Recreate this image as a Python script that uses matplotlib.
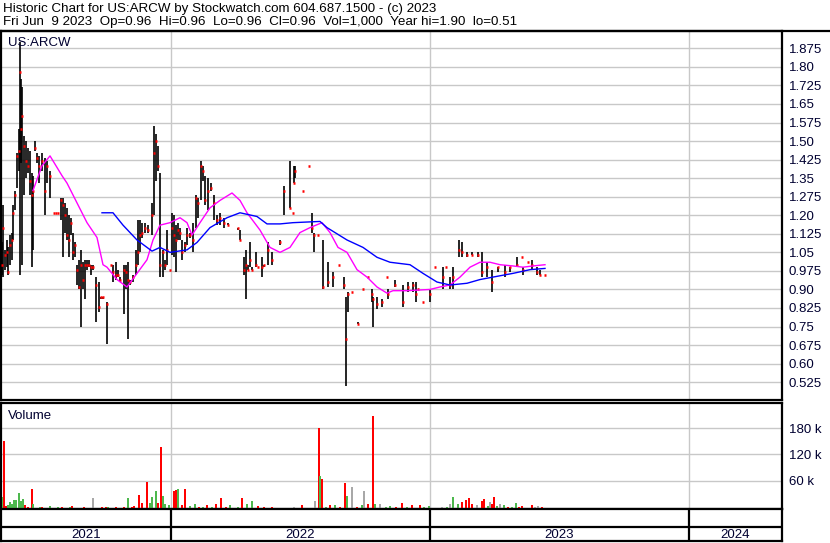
import matplotlib
matplotlib.use("Agg")
import matplotlib.pyplot as plt
from matplotlib.lines import Line2D
import numpy as np

plt.rcParams['font.family'] = ['Liberation Sans', 'DejaVu Sans']

# ---------------- data ----------------
# trading-session index (0 = first session shown)
days = [0, 1, 3, 5, 6, 8, 10, 11, 13, 15, 17, 18, 19, 20, 22, 24, 26, 28, 30, 31,
        33, 35, 37, 40, 43, 45, 48, 52, 54, 56, 59, 61, 63, 65, 67, 69, 71, 73, 75, 77,
        79, 81, 83, 85, 87, 89, 91, 94, 97, 99, 101, 105, 109, 111, 114, 116, 118, 122, 124, 126,
        128, 131, 134, 136, 138, 140, 143, 146, 150, 152, 154, 156, 158, 161, 163, 165, 168, 170, 172, 174,
        176, 178, 180, 183, 185, 188, 191, 194, 196, 199, 201, 203, 206, 209, 212, 215, 218, 222, 226, 236,
        238, 242, 244, 246, 248, 250, 254, 256, 260, 262, 266, 270, 278, 282, 288, 291, 292, 293, 301, 307,
        310, 312, 316, 321, 326, 331, 337, 342, 344, 346, 350, 356, 361, 366, 370, 371, 375, 380, 385, 386,
        393, 401, 406, 411, 414, 416, 421, 428, 433, 441, 444, 448, 451, 457, 460, 465, 470, 476, 480, 485,
        490, 496, 503, 508, 515, 520, 521, 526, 530, 535, 538, 543]
highs = [1.09, 1.24, 1.06, 1.10, 1.07, 1.12, 1.13, 1.24, 1.30, 1.45, 1.55, 1.90, 1.75, 1.72, 1.52, 1.50, 1.47, 1.46, 1.37, 1.36,
         1.50, 1.45, 1.44, 1.45, 1.43, 1.42, 1.38, 1.21, 1.21, 1.21, 1.27, 1.27, 1.25, 1.23, 1.20, 1.19, 1.13, 1.09, 1.00, 1.02,
         1.06, 1.01, 1.02, 1.02, 1.02, 1.00, 1.00, 0.95, 0.93, 0.87, 0.87, 0.85, 1.00, 1.00, 1.01, 0.98, 0.95, 1.00, 1.00, 1.01,
         0.94, 0.96, 1.06, 1.18, 1.18, 1.17, 1.17, 1.16, 1.25, 1.56, 1.53, 1.48, 1.37, 1.06, 1.02, 1.14, 0.98, 1.21, 1.20, 1.16,
         1.17, 1.15, 1.10, 1.09, 1.15, 1.13, 1.17, 1.28, 1.27, 1.42, 1.40, 1.36, 1.35, 1.33, 1.28, 1.20, 1.21, 1.19, 1.17, 1.15,
         1.14, 1.03, 1.06, 1.00, 1.09, 0.99, 1.05, 0.99, 1.03, 1.00, 1.09, 1.05, 1.10, 1.32, 1.42, 1.21, 1.40, 1.40, 1.30, 1.40,
         1.21, 1.13, 1.12, 1.10, 1.01, 0.97, 1.00, 0.95, 0.87, 0.89, 0.89, 0.77, 0.90, 0.95, 0.90, 0.87, 0.87, 0.86, 0.95, 0.90,
         0.94, 0.92, 0.93, 0.93, 0.93, 0.90, 0.85, 0.90, 0.99, 0.99, 0.99, 0.95, 0.99, 1.10, 1.09, 1.05, 1.05, 1.05, 1.05, 1.01,
         0.98, 0.99, 1.00, 0.99, 1.03, 1.03, 0.99, 1.01, 1.02, 0.99, 0.98, 0.96]
lows = [0.96, 0.95, 0.98, 0.99, 0.96, 1.00, 1.02, 1.10, 1.22, 1.31, 1.38, 0.96, 1.41, 1.00, 1.28, 1.35, 1.37, 1.28, 0.99, 1.06,
        1.46, 1.41, 1.33, 1.38, 1.20, 1.33, 1.27, 1.21, 1.21, 1.21, 1.18, 1.03, 1.13, 1.10, 1.03, 1.12, 1.02, 1.03, 0.92, 0.90,
        0.75, 0.90, 0.86, 0.98, 0.99, 0.96, 0.98, 0.77, 0.81, 0.86, 0.86, 0.68, 1.00, 0.93, 0.94, 0.95, 0.93, 0.80, 0.90, 0.70,
        0.92, 0.93, 0.96, 1.00, 1.05, 1.11, 1.13, 1.13, 1.12, 1.20, 1.34, 1.38, 0.95, 0.95, 0.98, 1.00, 0.98, 1.04, 1.03, 0.97,
        1.10, 1.10, 1.02, 1.05, 1.08, 1.11, 1.05, 1.15, 1.19, 1.26, 1.34, 1.24, 1.22, 1.30, 1.18, 1.16, 1.16, 1.15, 1.16, 1.14,
        1.10, 0.96, 0.86, 0.98, 0.99, 0.98, 0.99, 0.99, 0.95, 0.99, 1.00, 1.00, 1.08, 1.20, 1.23, 1.21, 1.33, 1.35, 1.30, 1.40,
        1.13, 1.05, 1.12, 0.90, 0.91, 0.91, 1.00, 0.90, 0.51, 0.81, 0.89, 0.76, 0.90, 0.95, 0.85, 0.75, 0.82, 0.83, 0.95, 0.86,
        0.91, 0.83, 0.89, 0.89, 0.85, 0.90, 0.85, 0.85, 0.99, 0.90, 0.99, 0.90, 0.90, 1.03, 1.03, 1.03, 1.04, 1.03, 0.95, 0.95,
        0.89, 0.97, 0.95, 0.97, 0.99, 1.03, 0.96, 1.01, 0.98, 0.96, 0.96, 0.96]
closes = [1.00, 1.15, 1.04, 1.05, 0.97, 1.08, 1.10, 1.21, 1.28, 1.44, 1.46, 1.78, 1.55, 1.60, 1.48, 1.42, 1.40, 1.34, 1.28, 1.30,
          1.47, 1.43, 1.40, 1.42, 1.30, 1.40, 1.36, 1.21, 1.21, 1.21, 1.26, 1.24, 1.20, 1.12, 1.10, 1.17, 1.05, 1.08, 0.98, 0.91,
          1.00, 0.94, 1.00, 1.00, 1.00, 0.99, 0.99, 0.92, 0.83, 0.87, 0.87, 0.84, 1.00, 0.97, 0.96, 0.96, 0.94, 0.98, 0.97, 0.94,
          0.93, 0.95, 1.00, 1.05, 1.12, 1.13, 1.15, 1.14, 1.20, 1.45, 1.50, 1.40, 1.00, 1.05, 1.00, 1.06, 0.98, 1.15, 1.12, 1.10,
          1.14, 1.13, 1.05, 1.08, 1.12, 1.12, 1.10, 1.27, 1.25, 1.40, 1.38, 1.26, 1.30, 1.31, 1.25, 1.18, 1.19, 1.17, 1.16, 1.15,
          1.10, 0.98, 1.00, 0.98, 1.02, 0.98, 1.00, 0.99, 0.99, 1.00, 1.06, 1.02, 1.09, 1.30, 1.23, 1.21, 1.33, 1.38, 1.30, 1.40,
          1.15, 1.12, 1.12, 0.91, 0.93, 0.95, 1.00, 0.92, 0.70, 0.88, 0.89, 0.76, 0.90, 0.95, 0.88, 0.86, 0.84, 0.85, 0.95, 0.88,
          0.92, 0.85, 0.91, 0.92, 0.88, 0.90, 0.85, 0.88, 0.99, 0.95, 0.99, 0.92, 0.95, 1.06, 1.05, 1.04, 1.04, 1.04, 0.97, 0.99,
          0.93, 0.99, 0.97, 0.99, 1.00, 1.03, 0.98, 1.01, 1.00, 0.97, 0.96, 0.96]

# moving averages (magenta = short, blue = long)
ma_short_days = [31, 40, 48, 60, 65, 75, 85, 95, 101, 105, 115, 125, 135, 145, 151, 158, 168, 178, 185, 190,
                 198, 208, 218, 230, 238, 245, 258, 268, 278, 288, 298, 308, 320, 328, 336, 345, 355, 365, 375, 385,
                 391, 405, 428, 438, 448, 458, 468, 478, 488, 498, 511, 521, 531, 543]
ma_short = [1.30, 1.40, 1.44, 1.36, 1.33, 1.25, 1.17, 1.11, 1.00, 0.99, 0.94, 0.91, 0.965, 1.02, 1.10, 1.16, 1.17, 1.19, 1.17, 1.12,
            1.17, 1.23, 1.26, 1.29, 1.26, 1.21, 1.14, 1.07, 1.05, 1.07, 1.13, 1.15, 1.17, 1.13, 1.07, 1.05, 0.98, 0.95, 0.91, 0.885,
            0.895, 0.895, 0.90, 0.91, 0.918, 0.95, 0.99, 1.01, 1.01, 1.00, 0.995, 0.99, 0.995, 1.00]
ma_long_days = [100, 111, 121, 135, 150, 158, 168, 185, 195, 208, 225, 238, 255, 265, 278, 291, 318, 325, 345, 361,
                375, 388, 408, 421, 435, 448, 465, 478, 491, 511, 528, 543]
ma_long = [1.21, 1.21, 1.16, 1.10, 1.055, 1.07, 1.05, 1.06, 1.09, 1.15, 1.19, 1.21, 1.195, 1.165, 1.165, 1.17, 1.175, 1.15, 1.10, 1.07,
           1.03, 1.01, 1.00, 0.965, 0.93, 0.918, 0.925, 0.94, 0.95, 0.965, 0.98, 0.985]

# volume (thousands of shares); colour: r = down, g = up, n = unchanged
vol_days = [1, 2, 4, 6, 8, 10, 12, 14, 17, 19, 21, 23, 26, 30, 31, 34, 38, 40, 44, 48,
            52, 56, 60, 64, 68, 70, 74, 78, 82, 86, 91, 95, 100, 104, 106, 110, 114, 118, 122, 126,
            130, 132, 137, 140, 145, 148, 150, 154, 156, 159, 161, 163, 167, 172, 174, 176, 180, 183, 188, 193,
            197, 201, 205, 210, 214, 219, 224, 228, 233, 236, 240, 245, 250, 256, 262, 270, 278, 285, 292, 300,
            306, 313, 317, 318, 320, 324, 328, 333, 338, 343, 345, 350, 355, 360, 362, 366, 371, 373, 378, 384,
            388, 394, 400, 405, 410, 418, 422, 427, 433, 440, 445, 448, 451, 456, 460, 464, 467, 470, 475, 480,
            482, 486, 488, 490, 492, 495, 498, 502, 506, 510, 514, 517, 520, 525, 530, 533, 536, 540, 543]
vol_k = [28, 154, 6, 8, 15, 12, 20, 20, 36, 18, 22, 10, 5, 45, 12, 3, 4, 5, 3, 6,
         3, 4, 5, 3, 4, 6, 3, 2, 4, 3, 25, 3, 4, 5, 5, 3, 4, 3, 4, 25,
         5, 6, 32, 14, 62, 14, 28, 40, 14, 141, 30, 12, 10, 42, 44, 45, 8, 46, 6, 12,
         4, 5, 10, 5, 12, 25, 4, 8, 3, 5, 25, 12, 18, 6, 4, 4, 3, 3, 4, 8,
         3, 18, 185, 75, 69, 5, 8, 10, 4, 58, 30, 50, 5, 8, 41, 12, 212, 12, 12, 4,
         6, 5, 14, 4, 8, 10, 4, 6, 3, 5, 4, 12, 28, 12, 15, 20, 25, 12, 10, 18,
         22, 6, 15, 12, 28, 6, 12, 8, 4, 5, 14, 4, 6, 3, 10, 4, 6, 5, 2]
vol_col = ['g', 'r', 'r', 'g', 'g', 'g', 'g', 'g', 'g', 'g', 'g', 'r', 'r', 'r', 'g', 'r', 'g', 'r', 'r', 'g',
           'r', 'g', 'r', 'r', 'g', 'r', 'r', 'r', 'r', 'r', 'n', 'r', 'r', 'r', 'g', 'r', 'r', 'g', 'r', 'g',
           'r', 'r', 'r', 'r', 'r', 'g', 'g', 'g', 'r', 'r', 'g', 'g', 'g', 'r', 'r', 'g', 'r', 'r', 'g', 'g',
           'r', 'g', 'r', 'g', 'r', 'r', 'r', 'g', 'r', 'g', 'r', 'g', 'g', 'r', 'r', 'r', 'g', 'r', 'n', 'r',
           'g', 'n', 'r', 'g', 'r', 'g', 'r', 'g', 'r', 'r', 'g', 'n', 'r', 'g', 'n', 'r', 'r', 'g', 'n', 'g',
           'g', 'r', 'r', 'g', 'r', 'r', 'g', 'g', 'n', 'n', 'g', 'n', 'g', 'g', 'r', 'r', 'r', 'r', 'n', 'r',
           'r', 'g', 'n', 'r', 'r', 'g', 'n', 'g', 'r', 'g', 'g', 'r', 'r', 'g', 'r', 'n', 'n', 'r', 'r']

price_ticks = [1.875, 1.80, 1.725, 1.65, 1.575, 1.50, 1.425, 1.35, 1.275, 1.20, 1.125, 1.05,
               0.975, 0.90, 0.825, 0.75, 0.675, 0.60, 0.525]
price_tick_labels = ['1.875', '1.80', '1.725', '1.65', '1.575', '1.50', '1.425', '1.35', '1.275', '1.20',
                     '1.125', '1.05', '0.975', '0.90', '0.825', '0.75', '0.675', '0.60', '0.525']
vol_ticks = [60, 120, 180]
vol_tick_labels = ['60 k', '120 k', '180 k']
year_starts = [169, 428, 687]
years = ['2021', '2022', '2023', '2024']

header1 = "Historic Chart for US:ARCW by Stockwatch.com 604.687.1500 - (c) 2023"
header2 = "Fri Jun  9 2023  Op=0.96  Hi=0.96  Lo=0.96  Cl=0.96  Vol=1,000  Year hi=1.90  lo=0.51"

# ---------------- figure ----------------
W, H = 830, 543
fig = plt.figure(figsize=(W / 100, H / 100), dpi=100)
fig.patch.set_facecolor('white')

def box(x0, y0, x1, y1):
    return [x0 / W, 1 - y1 / H, (x1 - x0) / W, (y1 - y0) / H]

XMIN, XMAX = -1, 780
grid_c = '#C8C8C8'
tick_c = '#000030'
spine_lw = 1.6

ax = fig.add_axes(box(1, 31, 782, 400))
axv = fig.add_axes(box(1, 403, 782, 509))
axy = fig.add_axes(box(1, 509, 782, 541))

for a in (ax, axv, axy):
    a.set_xlim(XMIN, XMAX)
    for s in a.spines.values():
        s.set_linewidth(spine_lw)
        s.set_color('black')
    a.set_xticks([])

# price panel
ax.set_ylim(0.453, 1.945)
for t in price_ticks:
    ax.axhline(t, color=grid_c, lw=1.0, zorder=0)
for xs in year_starts:
    ax.axvline(xs, color=grid_c, lw=1.0, zorder=0)
ax.yaxis.tick_right()
ax.set_yticks(price_ticks)
ax.set_yticklabels(price_tick_labels)
ax.tick_params(axis='y', length=0, pad=5, labelsize=9.5, labelcolor=tick_c)

d = np.array(days, dtype=float)
ax.vlines(d, lows, highs, color='black', lw=1.2, zorder=3)
ax.hlines(closes, d - 1.4, d + 1.4, color='#FF0000', lw=1.8, zorder=4)
ax.plot(ma_short_days, ma_short, color='#FF00FF', lw=1.0, zorder=5)
ax.plot(ma_long_days, ma_long, color='#0000FF', lw=1.0, zorder=5)
ax.text(0.009, 0.985, 'US:ARCW', transform=ax.transAxes, ha='left', va='top',
        fontsize=9.5, color=tick_c)

# volume panel
axv.set_ylim(-4, 237)
for t in vol_ticks:
    axv.axhline(t, color=grid_c, lw=1.0, zorder=0)
for xs in year_starts:
    axv.axvline(xs, color=grid_c, lw=1.0, zorder=0)
axv.yaxis.tick_right()
axv.set_yticks(vol_ticks)
axv.set_yticklabels(vol_tick_labels)
axv.tick_params(axis='y', length=0, pad=5, labelsize=9.5, labelcolor=tick_c)
cmap = {'r': '#FF0000', 'g': '#4DB84D', 'n': '#A8A8A8'}
axv.bar(vol_days, vol_k, width=1.6, bottom=-4, color=[cmap[c] for c in vol_col], zorder=3)
axv.text(0.009, 0.93, 'Volume', transform=axv.transAxes, ha='left', va='top',
         fontsize=9.5, color=tick_c)

# year band
axy.set_ylim(0, 1)
axy.set_yticks([])
axy.axhline(0.4375, color='black', lw=spine_lw)
for xs in year_starts:
    axy.axvline(xs, color='black', lw=spine_lw)
bounds = [XMIN] + year_starts + [XMAX]
for i, yr in enumerate(years):
    axy.text((bounds[i] + bounds[i + 1]) / 2, 0.2, yr, ha='center', va='center',
             fontsize=9.5, color=tick_c)

# top rule across full width
fig.add_artist(Line2D([0, 1], [1 - 30.5 / H, 1 - 30.5 / H], transform=fig.transFigure,
                      color='black', lw=spine_lw))

fig.text(3 / W, 1 - 9 / H, header1, ha='left', va='center', fontsize=9.6, color='black')
fig.text(3 / W, 1 - 22 / H, header2, ha='left', va='center', fontsize=9.6, color='black')

fig.savefig('out.png', dpi=100, facecolor='white')
